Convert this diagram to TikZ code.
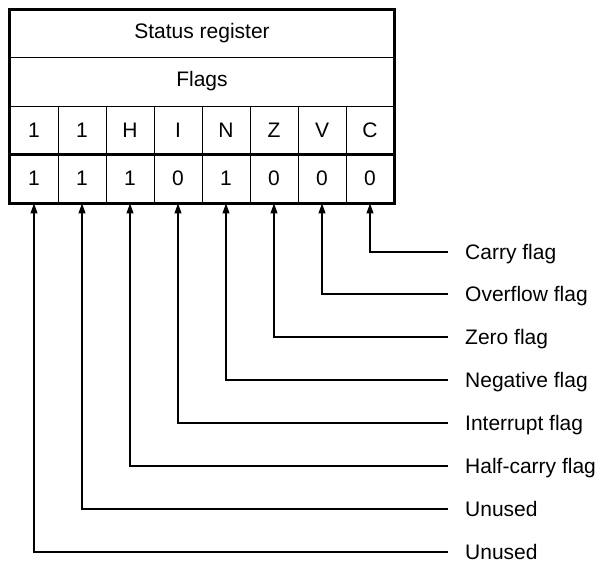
\documentclass[tikz,border=0pt]{standalone}
\usepackage{fontspec}
\setmainfont{Liberation Sans}
\usetikzlibrary{arrows.meta}
\tikzset{
  txt/.style={font=\fontsize{21pt}{25pt}\selectfont},
  cell/.style={txt, draw, line width=0.9pt, minimum width=48pt, inner sep=0pt},
  band/.style={txt, draw, line width=0.9pt, minimum width=384pt, inner sep=0pt},
  lab/.style={txt, anchor=west, inner xsep=17pt, inner ysep=0pt, text height=15pt, text depth=0pt},
  conn/.style={line width=1.1pt, {Triangle[length=10pt,width=7pt]}-},
  frame/.style={line width=2.2pt}
}
\begin{document}
\begin{tikzpicture}[x=1pt,y=-1pt]
\useasboundingbox (0,0) rectangle (600,562);
% bands
\node[band, minimum height=47pt] (status) at (202,33.5) {Status register};
\node[band, minimum height=49pt] (flags) at (202,81.5) {Flags};
% letter row
\foreach \n/\t [count=\i from 0] in {l1/1,l2/1,lH/H,lI/I,lN/N,lZ/Z,lV/V,lC/C}
  \node[cell, minimum height=48pt] (\n) at (34+48*\i,130) {\t};
% value row
\foreach \n/\t [count=\i from 0] in {u1/1,u2/1,vH/1,vI/0,vN/1,vZ/0,vV/0,vC/0}
  \node[cell, minimum height=49pt] (\n) at (34+48*\i,178.5) {\t};
% thick frame
\draw[frame] (status.north west) rectangle (u1.south west -| vC.east);
\draw[frame] (l1.south west) -- (lC.south east);
% labels
\node[lab] (tC) at (448,252) {Carry flag};
\node[lab] (tV) at (448,294) {Overflow flag};
\node[lab] (tZ) at (448,337) {Zero flag};
\node[lab] (tN) at (448,380) {Negative flag};
\node[lab] (tI) at (448,423) {Interrupt flag};
\node[lab] (tH) at (448,466) {Half-carry flag};
\node[lab] (t2) at (448,509) {Unused};
\node[lab] (t1) at (448,552) {Unused};
% connectors
\draw[conn] (vC.south) |- (tC.west);
\draw[conn] (vV.south) |- (tV.west);
\draw[conn] (vZ.south) |- (tZ.west);
\draw[conn] (vN.south) |- (tN.west);
\draw[conn] (vI.south) |- (tI.west);
\draw[conn] (vH.south) |- (tH.west);
\draw[conn] (u2.south) |- (t2.west);
\draw[conn] (u1.south) |- (t1.west);
\end{tikzpicture}
\end{document}
